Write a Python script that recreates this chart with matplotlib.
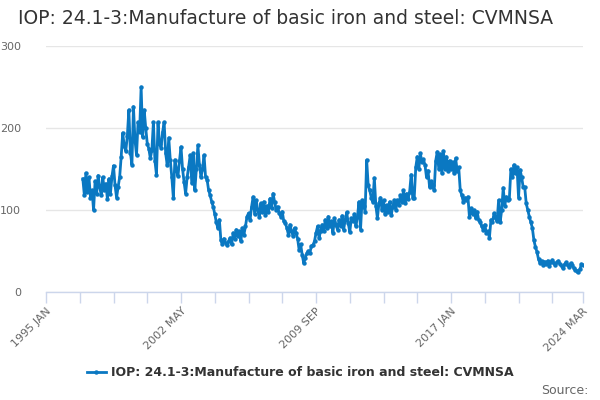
import matplotlib
matplotlib.use("Agg")
import matplotlib.pyplot as plt
import numpy as np
from matplotlib.lines import Line2D

title = "IOP: 24.1-3:Manufacture of basic iron and steel: CVMNSA"
series_name = "IOP: 24.1-3:Manufacture of basic iron and steel: CVMNSA"
start_year = 1997  # data starts 1997 JAN
axis_start_year = 1995  # axis starts 1995 JAN

v1997 = [138, 118, 145, 122, 140, 115, 124, 100, 135, 120, 142, 128]
v1998 = [118, 140, 125, 132, 114, 138, 120, 141, 154, 130, 115, 128]
v1999 = [140, 165, 194, 178, 172, 190, 222, 170, 155, 226, 185, 167]
v2000 = [207, 195, 250, 189, 222, 200, 181, 175, 163, 173, 207, 160]
v2001 = [143, 207, 180, 176, 195, 207, 169, 155, 188, 161, 140, 115]
v2002 = [161, 150, 141, 160, 177, 150, 134, 120, 140, 153, 167, 133]
v2003 = [169, 124, 150, 179, 155, 140, 150, 167, 140, 137, 124, 118]
v2004 = [110, 104, 95, 85, 78, 88, 63, 58, 65, 60, 57, 62]
v2005 = [66, 58, 72, 65, 76, 68, 74, 62, 78, 70, 80, 92]
v2006 = [96, 88, 104, 116, 95, 112, 100, 92, 108, 97, 110, 94]
v2007 = [105, 98, 114, 102, 120, 110, 100, 104, 96, 92, 98, 86]
v2008 = [84, 78, 70, 82, 75, 68, 78, 72, 65, 51, 58, 45]
v2009 = [35, 42, 47, 50, 48, 56, 57, 62, 72, 80, 66, 75]
v2010 = [82, 74, 88, 78, 92, 80, 86, 72, 90, 82, 76, 88]
v2011 = [80, 93, 76, 88, 97, 84, 73, 90, 86, 95, 80, 92]
v2012 = [110, 76, 112, 105, 98, 161, 130, 124, 115, 110, 139, 105]
v2013 = [90, 108, 115, 100, 112, 95, 106, 98, 110, 94, 104, 112]
v2014 = [100, 112, 106, 118, 110, 124, 108, 120, 114, 122, 143, 115]
v2015 = [115, 152, 165, 150, 169, 158, 162, 155, 140, 148, 128, 135]
v2016 = [130, 124, 160, 171, 150, 168, 145, 172, 150, 165, 148, 160]
v2017 = [150, 158, 145, 163, 148, 152, 124, 118, 110, 115, 112, 116]
v2018 = [91, 102, 95, 100, 90, 98, 88, 85, 80, 76, 82, 72]
v2019 = [74, 66, 88, 85, 96, 90, 86, 112, 85, 100, 127, 105]
v2020 = [116, 112, 114, 150, 140, 155, 145, 152, 115, 149, 140, 128]
v2021 = [128, 108, 100, 92, 85, 78, 63, 55, 49, 40, 35, 38]
v2022 = [33, 37, 34, 38, 32, 36, 39, 35, 33, 36, 38, 34]
v2023 = [32, 29, 34, 36, 33, 31, 35, 33, 29, 27, 26, 25]
v2024 = [28, 34, 33]

values = (v1997 + v1998 + v1999 + v2000 + v2001 + v2002 + v2003 + v2004 + v2005
          + v2006 + v2007 + v2008 + v2009 + v2010 + v2011 + v2012 + v2013 + v2014
          + v2015 + v2016 + v2017 + v2018 + v2019 + v2020 + v2021 + v2022 + v2023
          + v2024)

months = ["JAN", "FEB", "MAR", "APR", "MAY", "JUN", "JUL", "AUG", "SEP", "OCT", "NOV", "DEC"]
tick_labels = ["1995 JAN", "2002 MAY", "2009 SEP", "2017 JAN", "2024 MAR"]
y_ticks = [0, 100, 200, 300]

# month index relative to axis start
x = np.arange(len(values)) + (start_year - axis_start_year) * 12
end_idx = x[-1]

fig = plt.figure(figsize=(6, 4), dpi=100)
ax = fig.add_axes([46/600, 108/400, 537/600, 246/400])

line_color = "#0a78c2"
ax.plot(x, values, color=line_color, lw=2.0, marker="o", ms=3.2,
        markeredgewidth=0, zorder=3)

ax.set_xlim(0, end_idx)
ax.set_ylim(0, 300)

minor = list(range(0, 331, 22)) + [end_idx]
ax.set_xticks(minor)
labels = []
for m in minor:
    yr = axis_start_year + m // 12
    lab = f"{yr} {months[m % 12]}"
    labels.append(lab if lab in tick_labels else "")
ax.set_xticklabels(labels, rotation=45, ha="right", rotation_mode="anchor",
                   fontsize=8, color="#666666")
ax.tick_params(axis="x", length=8, width=1, color="#ccd6eb", pad=2)

ax.set_yticks(y_ticks)
ax.set_yticklabels([str(t) for t in y_ticks], fontsize=8, color="#666666")
ax.tick_params(axis="y", length=0, pad=18)
ax.grid(axis="y", color="#e6e6e6", lw=1)
ax.set_axisbelow(True)

for s in ["top", "right", "left"]:
    ax.spines[s].set_visible(False)
ax.spines["bottom"].set_color("#ccd6eb")
ax.spines["bottom"].set_linewidth(1)

fig.text(18/600, 1 - 19/400, title, fontsize=13.5, color="#333333",
         ha="left", va="center")

handle = Line2D([0], [0], color=line_color, lw=2.0, marker="o", ms=3.2,
                markeredgewidth=0)
fig.legend([handle], [series_name], loc="center", bbox_to_anchor=(300/600, 1 - 373/400),
           frameon=False, prop={"size": 9, "weight": "bold"}, labelcolor="#333333",
           handlelength=1.5, handletextpad=0.4)

fig.text(589/600, 1 - 390/400, "Source:", fontsize=9, color="#666666",
         ha="right", va="center")

fig.savefig("out.png", dpi=100)
